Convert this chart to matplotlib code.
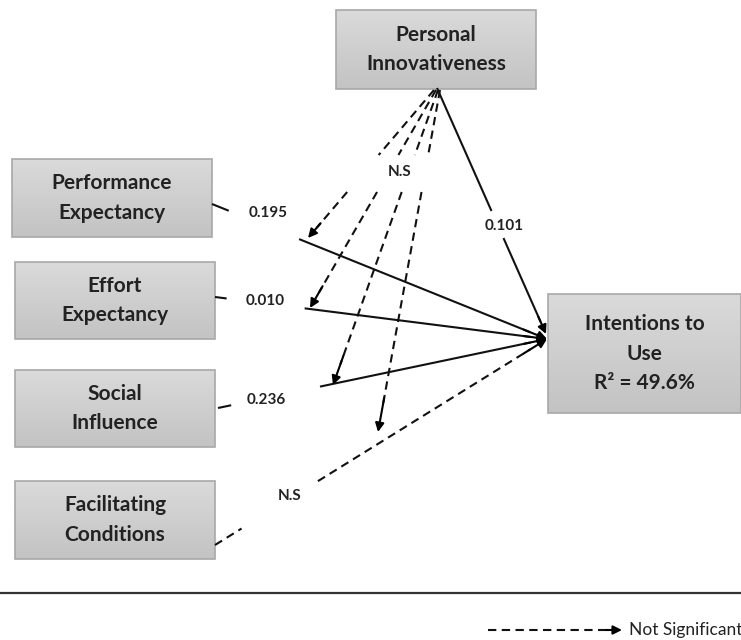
import matplotlib
matplotlib.use("Agg")
import matplotlib.pyplot as plt
import numpy as np
from matplotlib.patches import FancyArrowPatch, Rectangle
from matplotlib.colors import LinearSegmentedColormap

plt.rcParams['font.family'] = ['Lato', 'DejaVu Sans']

# ---- data ----
predictors = ["Performance\nExpectancy", "Effort\nExpectancy", "Social\nInfluence", "Facilitating\nConditions"]
path_labels = ["0.195", "0.010", "0.236", "N.S"]
path_significant = [True, True, True, False]
moderator = "Personal\nInnovativeness"
moderator_label = "0.101"
moderation_label = "N.S"
outcome = "Intentions to\nUse\nR² = 49.6%"
legend_text = "Not Significant"

W, H = 741, 640
fig = plt.figure(figsize=(W / 100, H / 100), dpi=100)
ax = fig.add_axes([0, 0, 1, 1])
ax.set_xlim(0, W)
ax.set_ylim(H, 0)
ax.axis('off')

TXT = '#222222'
grad = np.linspace(0, 1, 64).reshape(-1, 1)
gcmap = LinearSegmentedColormap.from_list('g', ['#dadada', '#c3c3c3'])


def box(x0, y0, x1, y1, text, fs=15):
    im = ax.imshow(grad, cmap=gcmap, extent=(x0, x1, y1, y0), aspect='auto', zorder=1)
    r = Rectangle((x0, y0), x1 - x0, y1 - y0, facecolor='none', edgecolor='#a8a8a8', lw=1.2, zorder=2)
    ax.add_patch(r)
    im.set_clip_path(r)
    ax.text((x0 + x1) / 2, (y0 + y1) / 2, text, ha='center', va='center', fontsize=fs,
            fontweight='bold', color=TXT, linespacing=1.58, zorder=3)


# boxes
pred_boxes = [(12, 159, 212, 237), (15, 262, 215, 339), (15, 370, 215, 447), (15, 481, 215, 559)]
for b, t in zip(pred_boxes, predictors):
    box(*b, t)
box(336, 10, 536, 89, moderator)
box(548, 294, 741, 413, outcome)

target = np.array([547, 339])
DASH = (0, (4, 2.6))


def head(p_from, p_to, lw=1.5):
    a = FancyArrowPatch(p_from, p_to, arrowstyle='-|>', mutation_scale=13, color='black',
                        lw=lw, shrinkA=0, shrinkB=0, zorder=5)
    ax.add_patch(a)


def seg(p, q, t0, t1, dashed, lw=1.5):
    p = np.array(p, float); q = np.array(q, float)
    a = p + (q - p) * t0
    b = p + (q - p) * t1
    ls = DASH if dashed else '-'
    ax.plot([a[0], b[0]], [a[1], b[1]], color='#111111', lw=lw, ls=ls, zorder=4,
            solid_capstyle='butt', dash_capstyle='butt')


# predictor paths
starts = [(212, 204), (215, 297), (218, 408), (215, 545)]
gaps = [(0.05, 0.26), (0.035, 0.27), (0.04, 0.31), (0.08, 0.31)]
lab_pos = [(268, 213), (265, 301), (266, 400), (290, 496)]
for s, g, lp, lab, sig in zip(starts, gaps, lab_pos, path_labels, path_significant):
    seg(s, target, 0, g[0], not sig)
    seg(s, target, g[1], 0.95, not sig)
    p = np.array(s, float)
    head(p + (target - p) * 0.93, target)
    ax.text(lp[0], lp[1], lab, ha='center', va='center', fontsize=11, fontweight='bold', color=TXT, zorder=6)

# moderator direct path
src = np.array([437, 88])
t_m = np.array([546, 334])
seg(src, t_m, 0, 0.5, False)
seg(src, t_m, 0.61, 0.95, False)
head(src + (t_m - src) * 0.93, t_m)
ax.text(504, 226, moderator_label, ha='center', va='center', fontsize=11, fontweight='bold', color=TXT, zorder=6)

# moderation (dashed) paths to predictor links
mod_src = [(434, 90), (436, 90), (438, 90), (440, 90)]
mod_ends = [(308, 238), (310, 308), (333, 385), (378, 432)]
for s0, e in zip(mod_src, mod_ends):
    s0 = np.array(s0, float)
    e = np.array(e, float)
    ty0 = (155 - s0[1]) / (e[1] - s0[1])
    ty1 = (192 - s0[1]) / (e[1] - s0[1])
    seg(s0, e, 0.0, ty0, True)
    seg(s0, e, ty1, 0.93, True)
    head(s0 + (e - s0) * 0.9, e)
ax.text(400, 172, moderation_label, ha='center', va='center', fontsize=11, fontweight='bold', color=TXT, zorder=6)

# bottom rule and legend
ax.plot([0, W], [593, 593], color='#333333', lw=1.6, zorder=4)
ax.plot([488, 612], [630, 630], color='#111111', lw=1.5, ls=DASH, zorder=4)
head((606, 630), (622, 630))
ax.text(629, 630, legend_text, ha='left', va='center', fontsize=12.5, color=TXT, zorder=6)

fig.savefig('out.png', dpi=100)
